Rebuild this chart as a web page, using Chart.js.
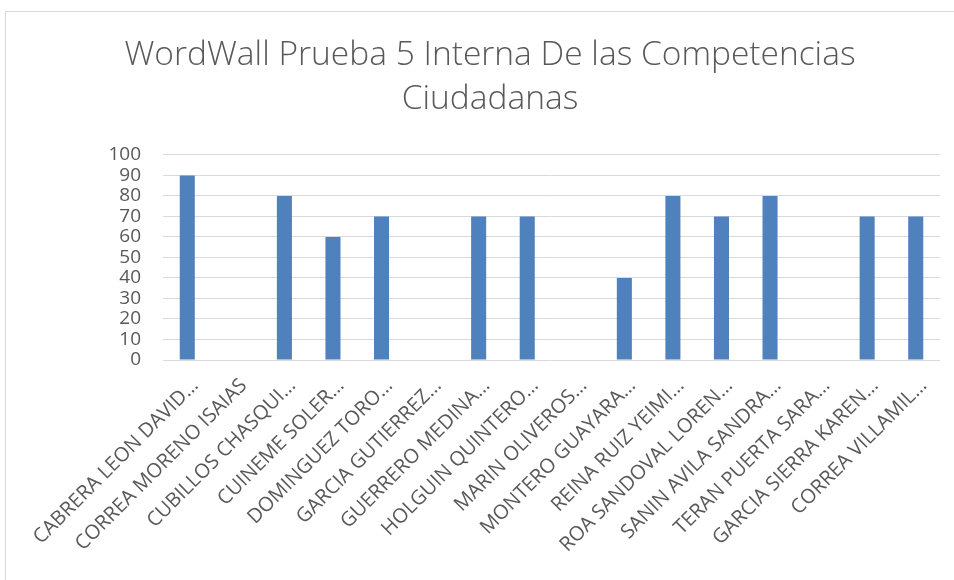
<!DOCTYPE html>
<html>
<head>
<meta charset="utf-8">
<script src="https://cdn.jsdelivr.net/npm/chart.js@4"></script>
<style>
  html, body { margin: 0; padding: 0; background: #fff; }
  #wrap { position: relative; width: 954px; height: 580px; overflow: hidden; }
  #frame { position: absolute; left: 5px; top: 11px; width: 960px; height: 600px; border: 1px solid #d9d9d9; box-sizing: border-box; }
  canvas { position: absolute; left: 0; top: 0; }
</style>
</head>
<body>
<div id="wrap">
  <div id="frame"></div>
  <canvas id="c" width="954" height="580"></canvas>
</div>
<script>
const titleLines = ["WordWall Prueba 5 Interna De las Competencias", "Ciudadanas"];
const categories = [
  "CABRERA LEON DAVID…",
  "CORREA MORENO ISAIAS",
  "CUBILLOS CHASQUI…",
  "CUINEME SOLER…",
  "DOMINGUEZ TORO…",
  "GARCIA GUTIERREZ…",
  "GUERRERO MEDINA…",
  "HOLGUIN QUINTERO…",
  "MARIN OLIVEROS…",
  "MONTERO GUAYARA…",
  "REINA RUIZ YEIMI…",
  "ROA SANDOVAL LOREN…",
  "SANIN AVILA SANDRA…",
  "TERAN PUERTA SARA…",
  "GARCIA SIERRA KAREN…",
  "CORREA VILLAMIL…"
];
const scores = [90, 0, 80, 60, 70, 0, 70, 70, 0, 40, 80, 70, 80, 0, 70, 70];
const yTicks = [0, 10, 20, 30, 40, 50, 60, 70, 80, 90, 100];

const PAD_LEFT = 40, PLOT_LEFT = 163, PLOT_RIGHT = 940, PLOT_BOTTOM = 360;

new Chart(document.getElementById('c'), {
  type: 'bar',
  data: {
    labels: categories,
    datasets: [{
      data: scores,
      backgroundColor: '#4f81bd',
      borderWidth: 0,
      barPercentage: 0.62,
      categoryPercentage: 0.5
    }]
  },
  options: {
    responsive: false,
    animation: false,
    layout: { padding: { left: PAD_LEFT, right: 954 - PLOT_RIGHT, top: 33, bottom: 0 } },
    plugins: {
      legend: { display: false },
      tooltip: { enabled: false },
      title: {
        display: true,
        text: titleLines,
        color: '#595959',
        font: { family: 'Open Sans', size: 33.5, weight: '300', lineHeight: 1.313 },
        padding: { top: 0, bottom: 34 }
      }
    },
    scales: {
      x: {
        grid: { display: false, drawTicks: false },
        border: { display: false },
        ticks: {
          color: '#595959',
          font: { family: 'Open Sans', size: 20 },
          minRotation: 45, maxRotation: 45,
          autoSkip: false,
          padding: 14,
          labelOffset: 8
        },
        afterFit(scale) { scale.height = 580 - PLOT_BOTTOM; }
      },
      y: {
        min: 0, max: 100,
        afterBuildTicks(scale) { scale.ticks = yTicks.map(v => ({ value: v })); },
        grid: { color: '#d9d9d9', lineWidth: 1, drawTicks: false },
        border: { display: false },
        ticks: {
          color: '#595959',
          font: { family: 'Open Sans', size: 19, lineHeight: 1 },
          autoSkip: false,
          padding: 22
        },
        afterFit(scale) { scale.width = PLOT_LEFT - PAD_LEFT; }
      }
    }
  }
});
</script>
</body>
</html>
